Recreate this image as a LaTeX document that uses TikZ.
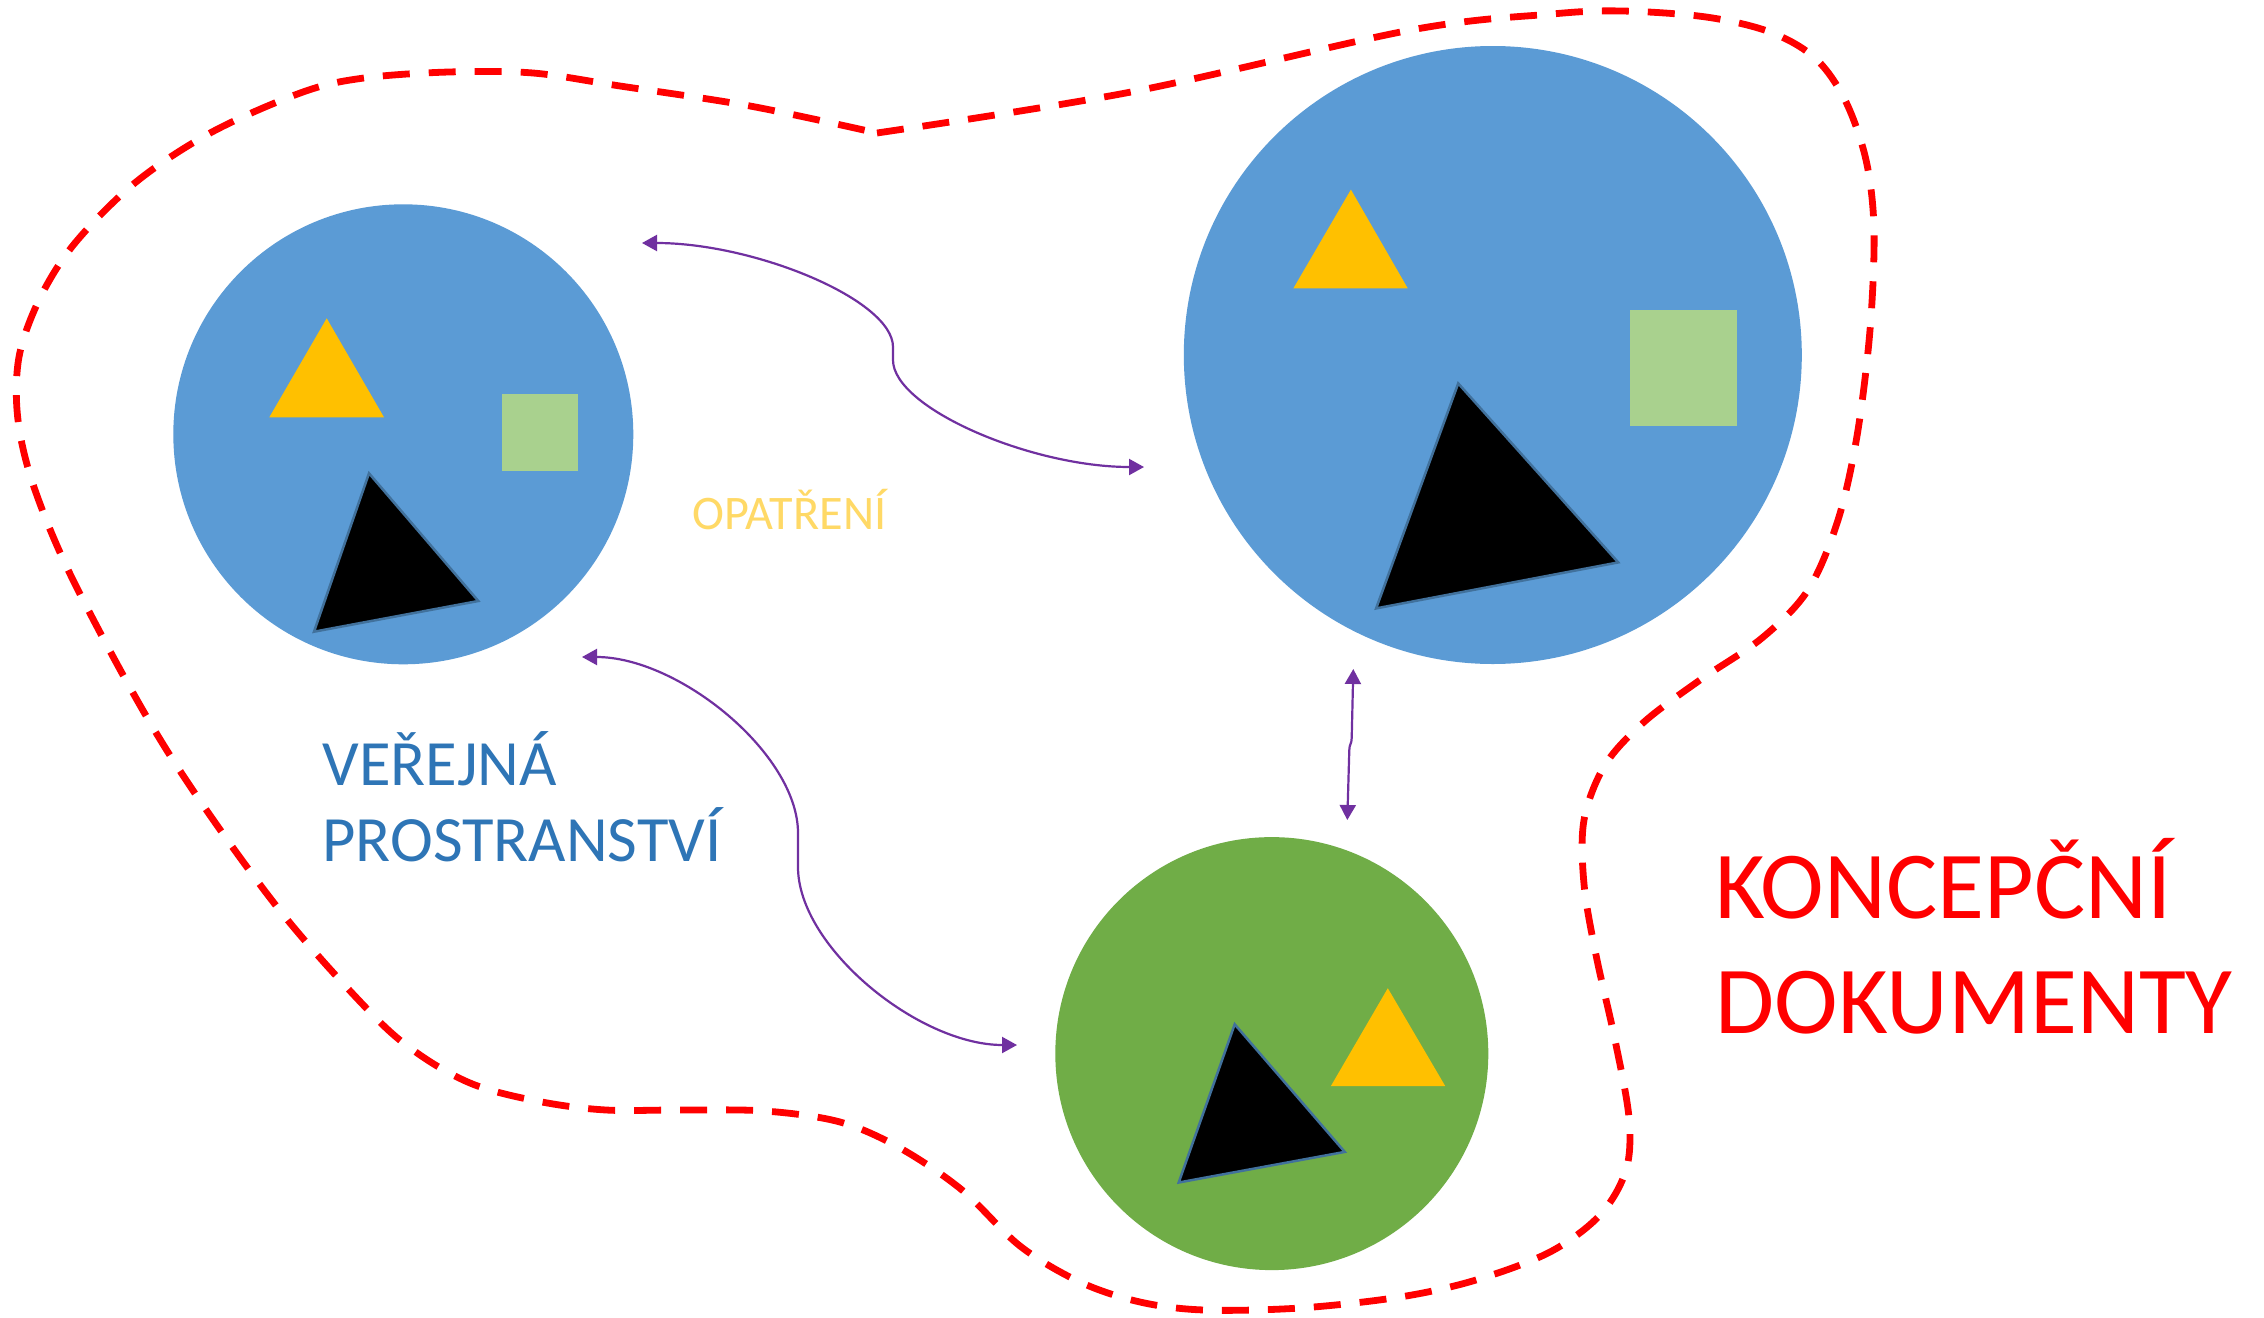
\documentclass[tikz,border=0pt]{standalone}
\usepackage{fontspec}
\setmainfont{Carlito}
\usetikzlibrary{arrows.meta}

\definecolor{poolblue}{HTML}{5B9BD5}
\definecolor{poolgreen}{HTML}{70AD47}
\definecolor{markyellow}{HTML}{FFC000}
\definecolor{marklime}{HTML}{A9D18E}
\definecolor{markedge}{HTML}{41719C}
\definecolor{linkpurple}{HTML}{7030A0}
\definecolor{titleblue}{HTML}{2E75B6}
\definecolor{titlegold}{HTML}{FFD966}
\definecolor{borderred}{HTML}{FF0000}

\begin{document}
\begin{tikzpicture}[x=0.5pt, y=-0.5pt,
  pool/.style={circle, inner sep=0pt, draw=none},
  darkmark/.style={fill=black, draw=markedge, line width=1.25pt},
  link/.style={draw=linkpurple, line width=1.1pt, <->,
    >={Triangle[width=8pt, length=7.5pt]}},
  border/.style={draw=borderred, line width=3.4pt,
    dash pattern=on 13.5pt off 9.5pt},
  caption/.style={inner sep=0pt, anchor=base west}]

\useasboundingbox[fill=white] (0,0) rectangle (2264,1317);

% dashed outline of the planning documents area
\draw[border] plot[smooth, tension=0.55] coordinates {
  (877,133) (1131,92) (1411,30) (1552,14) (1622,11) (1706,17) (1770,32)
  (1815,58) (1845,100) (1866,160) (1874,230) (1870,330) (1857,436)
  (1838,520) (1808,590) (1762,638) (1700,680) (1644,722) (1605,765)
  (1584,820) (1584,884) (1596,955) (1615,1040) (1629,1118) (1626,1170)
  (1600,1215) (1550,1252) (1476,1280) (1400,1297) (1300,1308) (1204,1310)
  (1140,1302) (1080,1282) (1020,1246) (962,1190) (900,1148) (840,1122)
  (765,1111) (680,1110) (606,1110) (542,1102) (475,1085) (420,1055)
  (370,1012) (274,903) (166,749) (77,588) (35,490) (18,420) (19,357)
  (40,298) (75,243) (136,182) (212,132) (303,92) (364,78) (449,72)
  (533,73) (620,86) (750,106) (877,133)};

% the three spaces
\node[pool, fill=poolblue,  minimum size=230pt]   (left)  at (403.3,434.3) {};
\node[pool, fill=poolblue,  minimum size=309pt]   (right) at (1492.8,355) {};
\node[pool, fill=poolgreen, minimum size=216.5pt] (green) at (1271.8,1053.6) {};

% markers in the left space
\fill[markyellow] (326.7,318.3) -- (269.3,417.3) -- (384,417.3) -- cycle;
\fill[marklime] (502,394) rectangle (578,470.7);
\filldraw[darkmark] (369,473.3) -- (478.3,601) -- (314,631.7) -- cycle;

% markers in the right space
\fill[markyellow] (1350.9,189.6) -- (1293.4,288.3) -- (1407.7,288.3) -- cycle;
\fill[marklime] (1630,309.9) rectangle (1737.4,426.1);
\filldraw[darkmark] (1458.2,383.4) -- (1618.2,562.4) -- (1376.1,608.4) -- cycle;

% markers in the green space
\filldraw[darkmark] (1234.7,1024.3) -- (1344.7,1151.9) -- (1178.7,1182.5) -- cycle;
\fill[markyellow] (1387.8,988.2) -- (1330.9,1086) -- (1445.2,1086) -- cycle;

% connector end points
\coordinate (topA)  at (642,243);
\coordinate (topM1) at (893,347);
\coordinate (topM2) at (893,360);
\coordinate (topB)  at (1144,467);
\coordinate (lowA)  at (582,657);
\coordinate (lowM1) at (798,833);
\coordinate (lowM2) at (798,867);
\coordinate (lowB)  at (1017,1045);
\coordinate (midA)  at (1353.3,669);
\coordinate (midB)  at (1347.3,820);

% links between the spaces
\draw[link] (topA) .. controls +(113,0) and +(0,-47) .. (topM1) -- (topM2)
  .. controls +(0,48) and +(-113,0) .. (topB);
\draw[link] (lowA) .. controls +(97,0) and +(0,-79) .. (lowM1) -- (lowM2)
  .. controls +(0,80) and +(-98.5,0) .. (lowB);
\draw[link] (midA) -- ++(-1.6,69) .. controls +(0,6) and +(0,-6) .. ++(-2.4,12)
  -- (midB);

% captions
\node[caption, text=titlegold, font=\fontsize{24.1pt}{29pt}\selectfont]
  (measures) at (692,529) {OPATŘENÍ};
\node[caption, text=titleblue, font=\fontsize{32.3pt}{39pt}\selectfont]
  (publicA) at (322,785) {VEŘEJNÁ};
\node[caption, text=titleblue, font=\fontsize{32.3pt}{39pt}\selectfont]
  (publicB) at (322,861.7) {PROSTRANSTVÍ};
\node[caption, text=borderred, font=\fontsize{48pt}{58pt}\selectfont]
  (docsA) at (1715,918) {KONCEPČNÍ};
\node[caption, text=borderred, font=\fontsize{48pt}{58pt}\selectfont]
  (docsB) at (1715,1033) {DOKUMENTY};

\end{tikzpicture}
\end{document}
